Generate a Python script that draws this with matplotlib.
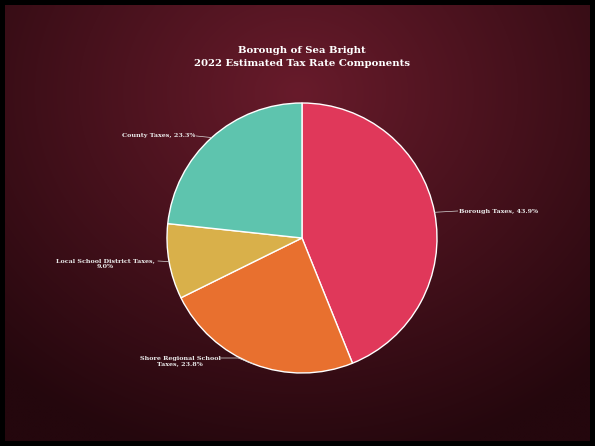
import numpy as np
import matplotlib
matplotlib.use("Agg")
import matplotlib.pyplot as plt

categories = ["Borough Taxes", "Shore Regional School Taxes", "Local School District Taxes", "County Taxes"]
values = [43.9, 23.8, 9.0, 23.3]
colors = ["#E0385A", "#E8702F", "#D9B04A", "#5EC4AE"]
title = "Borough of Sea Bright\n2022 Estimated Tax Rate Components"

W, H = 595, 446
fig = plt.figure(figsize=(W/100, H/100), dpi=100, facecolor="black")

# background gradient
bg = fig.add_axes([5/W, 5/H, 1-10/W, 1-10/H])
yy, xx = np.mgrid[0:200, 0:300]
cx, cy = 150, 40
d = np.sqrt(((xx-cx)/300)**2 + ((yy-cy)/230)**2)
d = np.clip(d/0.75, 0, 1)
c0 = np.array([0x68, 0x1b, 0x2b])/255
c1 = np.array([0x24, 0x07, 0x0d])/255
img = c0[None, None, :]*(1-d[..., None]) + c1[None, None, :]*d[..., None]
bg.imshow(img, aspect="auto", interpolation="bilinear")
bg.axis("off")

# pie axes
cxp, cyp, r = 302, 446-238, 135
ax = fig.add_axes([(cxp-r)/W, (cyp-r)/H, 2*r/W, 2*r/H])
wedges, _ = ax.pie(values, colors=colors, startangle=90, counterclock=False,
                   wedgeprops=dict(edgecolor="white", linewidth=1.0), radius=1.0)
ax.set_xlim(-1, 1)
ax.set_ylim(-1, 1)
ax.set_aspect("equal")
ax.axis("off")

def px(x, y):
    return ((x-302)/r, (238-y)/r)

font = dict(family="DejaVu Serif", fontweight="bold", color="#e8e8e8", fontsize=4.6)
labels = [f"{c}, {v}%" for c, v in zip(categories, values)]

# angles of slice middles
angles = []
start = 90
for v in values:
    span = v/100*360
    angles.append(np.deg2rad(start - span/2))
    start -= span

lc = "#d8d8d8"
# Borough
a = angles[0]
ex, ey = np.cos(a), np.sin(a)
tx, ty = px(459, 211)
ax.plot([ex, tx-0.01], [ey, ty], color=lc, lw=0.5, clip_on=False)
ax.text(tx, ty, labels[0], ha="left", va="center", clip_on=False, **font)
# Shore
a = angles[1]
ex, ey = np.cos(a), np.sin(a)
tx, ty = px(180, 361)
l0 = px(220, 358)
l1 = px(238, 358)
ax.plot([l0[0], l1[0], ex], [l0[1], l1[1], ey], color=lc, lw=0.5, clip_on=False)
ax.text(tx, ty, "Shore Regional School\nTaxes, 23.8%", ha="center", va="center",
        multialignment="center", clip_on=False, **font)
# Local
a = angles[2]
ex, ey = np.cos(a), np.sin(a)
tx, ty = px(105, 264)
p0 = px(158, 261)
ax.plot([p0[0], ex], [p0[1], ey], color=lc, lw=0.5, clip_on=False)
ax.text(tx, ty, "Local School District Taxes,\n9.0%", ha="center", va="center",
        multialignment="center", clip_on=False, **font)
# County
a = angles[3]
ex, ey = np.cos(a), np.sin(a)
tx, ty = px(195, 136)
ax.plot([tx+0.01, ex], [ty, ey], color=lc, lw=0.5, clip_on=False)
ax.text(tx, ty, labels[3], ha="right", va="center", clip_on=False, **font)

fig.text(302/W, 1-57/H, title, ha="center", va="center", family="DejaVu Serif",
         fontweight="bold", color="white", fontsize=7.3, linespacing=1.55)

fig.savefig("out.png", dpi=100, facecolor="black")
